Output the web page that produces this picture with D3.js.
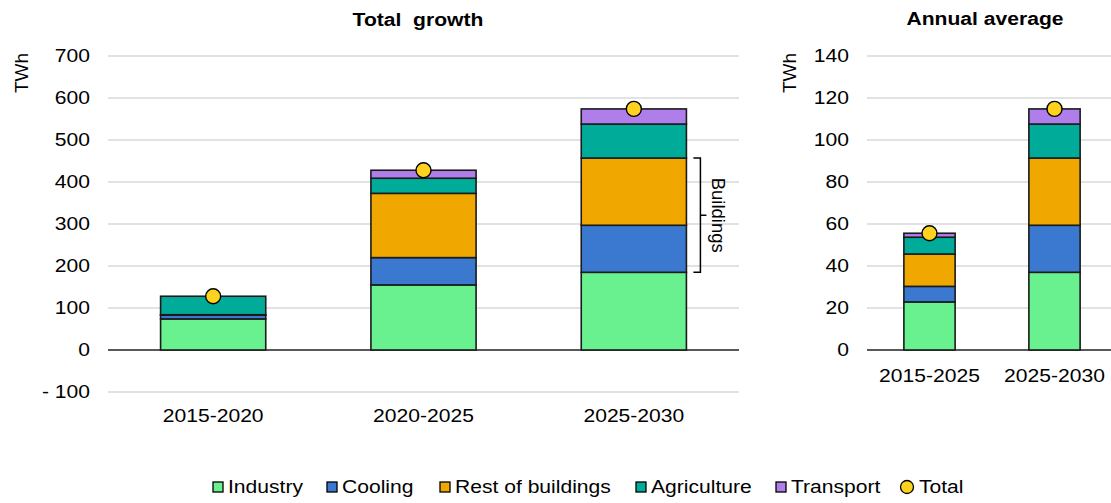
<!DOCTYPE html>
<html><head><meta charset="utf-8">
<script src="https://cdn.jsdelivr.net/npm/d3@7"></script>
<style>
body{margin:0;background:#fff;}
text{font-family:"Liberation Sans",Arial,sans-serif;fill:#000;}
</style></head>
<body><svg id="c" width="1111" height="503"></svg>
<script>
const seriesNames = ["Industry","Cooling","Rest of buildings","Agriculture","Transport"];
const seriesColors = ["#69F08F","#3B78D0","#F0A800","#00AB9A","#B07EEA"];
const totalColor = "#FFD21F";

const growthCategories = ["2015-2020","2020-2025","2025-2030"];
const growthIndustry = [74,155,185];
const growthCooling = [9,65,112];
const growthRest = [1,153,160];
const growthAgriculture = [44,36,81];
const growthTransport = [0,19,36];
const growthTotal = [128,428,574];
const growthTicks = [-100,0,100,200,300,400,500,600,700];

const annualCategories = ["2015-2025","2025-2030"];
const annualIndustry = [22.9,37.0];
const annualCooling = [7.4,22.4];
const annualRest = [15.4,32.0];
const annualAgriculture = [8.0,16.2];
const annualTransport = [1.9,7.2];
const annualTotal = [55.6,114.8];
const annualTicks = [0,20,40,60,80,100,120,140];

const svg = d3.select("#c");
const FS = 18.5;
const SX = 1.14; // horizontal stretch of the reference's text

function stxt(parent,x,y,str,opts={}){
  const t = parent.append("text")
    .attr("transform",`translate(${x},${y}) scale(${SX},1)`)
    .attr("text-anchor",opts.anchor||"start")
    .attr("dy",opts.dy||"0.35em")
    .attr("font-size",opts.size||FS);
  if(opts.bold) t.attr("font-weight","bold");
  t.attr("xml:space","preserve").style("white-space","pre").text(str);
  return t;
}

function panel(cfg){
  const g = svg.append("g");
  const x = d3.scaleBand().domain(cfg.cats).range([cfg.x0,cfg.x1]).paddingInner(0).paddingOuter(0);
  const y = d3.scaleLinear().domain(cfg.domain).range(cfg.yr);
  g.selectAll("line.grid").data(cfg.ticks).join("line")
    .attr("x1",cfg.x0).attr("x2",Math.min(cfg.x1,1111))
    .attr("y1",d=>y(d)).attr("y2",d=>y(d))
    .attr("stroke",d=>d===0?"#595959":"#D9D9D9")
    .attr("stroke-width",d=>d===0?2:1.3);
  cfg.ticks.forEach(d=>stxt(g,cfg.labelX,y(d),d<0?"- "+Math.abs(d):String(d),{anchor:"end"}));
  g.append("text").attr("transform",`translate(${cfg.ytX},${cfg.ytY}) rotate(-90)`)
    .attr("text-anchor","middle").attr("dy","0.35em").attr("font-size",19).text("TWh");
  stxt(g,cfg.titleX,cfg.titleY,cfg.title,{anchor:"middle",bold:true,dy:"0"});
  const rows = cfg.cats.map((c,i)=>{const r={cat:c}; seriesNames.forEach((s,k)=>r[s]=cfg.series[k][i]); return r;});
  const stack = d3.stack().keys(seriesNames)(rows);
  const bw = x.bandwidth()*cfg.barFrac;
  stack.forEach((layer,k)=>{
    g.selectAll(null).data(layer).join("rect")
      .attr("x",d=>x(d.data.cat)+(x.bandwidth()-bw)/2)
      .attr("width",bw)
      .attr("y",d=>y(Math.max(d[0],d[1])))
      .attr("height",d=>Math.abs(y(d[0])-y(d[1])))
      .attr("fill",seriesColors[k]).attr("stroke","#1a1a1a").attr("stroke-width",1.6);
  });
  g.selectAll("circle.tot").data(cfg.cats).join("circle")
    .attr("cx",c=>x(c)+x.bandwidth()/2).attr("cy",(c,i)=>y(cfg.total[i]))
    .attr("r",7.5).attr("fill",totalColor).attr("stroke","#000").attr("stroke-width",1.4);
  cfg.cats.forEach(c=>stxt(g,x(c)+x.bandwidth()/2,cfg.xLabelY,c,{anchor:"middle",dy:"0"}));
  return {x,y,bw};
}

const L = panel({cats:growthCategories, x0:108, x1:739, domain:[-100,700], yr:[392,56], ticks:growthTicks,
  labelX:90, ytX:21, ytY:73, titleX:418, titleY:26, title:"Total  growth", barFrac:0.5,
  series:[growthIndustry,growthCooling,growthRest,growthAgriculture,growthTransport], total:growthTotal, xLabelY:422});
const R = panel({cats:annualCategories, x0:867, x1:1117, domain:[0,140], yr:[350,56], ticks:annualTicks,
  labelX:849, ytX:789, ytY:73, titleX:985, titleY:25, title:"Annual average", barFrac:0.41,
  series:[annualIndustry,annualCooling,annualRest,annualAgriculture,annualTransport], total:annualTotal, xLabelY:382});

// Buildings bracket on last growth bar
{
  const c = growthCategories[2];
  const right = L.x(c)+(L.x.bandwidth()+L.bw)/2;
  const yb = L.y(growthIndustry[2]);
  const yt = L.y(growthIndustry[2]+growthCooling[2]+growthRest[2]);
  const xs = right+7, xv = right+14, xm = right+20, ym=(yb+yt)/2;
  svg.append("path").attr("d",`M${xs},${yt}H${xv}V${yb}H${xs}M${xv},${ym}H${xm}`)
    .attr("fill","none").attr("stroke","#000").attr("stroke-width",1.5);
  svg.append("text").attr("transform",`translate(${xm+12},${ym}) rotate(90)`)
    .attr("text-anchor","middle").attr("dy","0.35em").attr("font-size",18.5).text("Buildings");
}

// legend
const legendItems = seriesNames.map((s,i)=>({name:s,color:seriesColors[i],type:"rect"})).concat([{name:"Total",color:totalColor,type:"circle"}]);
const legendX = [213,327,440,636,776,900];
const lg = svg.append("g");
legendItems.forEach((it,i)=>{
  const gx = legendX[i], cy = 487;
  if(it.type==="rect"){
    lg.append("rect").attr("x",gx).attr("y",cy-5).attr("width",10).attr("height",10)
      .attr("fill",it.color).attr("stroke","#000").attr("stroke-width",1.3);
    stxt(lg,gx+15,cy,it.name);
  } else {
    lg.append("circle").attr("cx",gx+7).attr("cy",cy).attr("r",6.5)
      .attr("fill",it.color).attr("stroke","#000").attr("stroke-width",1.3);
    stxt(lg,gx+19,cy,it.name);
  }
});
</script></body></html>
